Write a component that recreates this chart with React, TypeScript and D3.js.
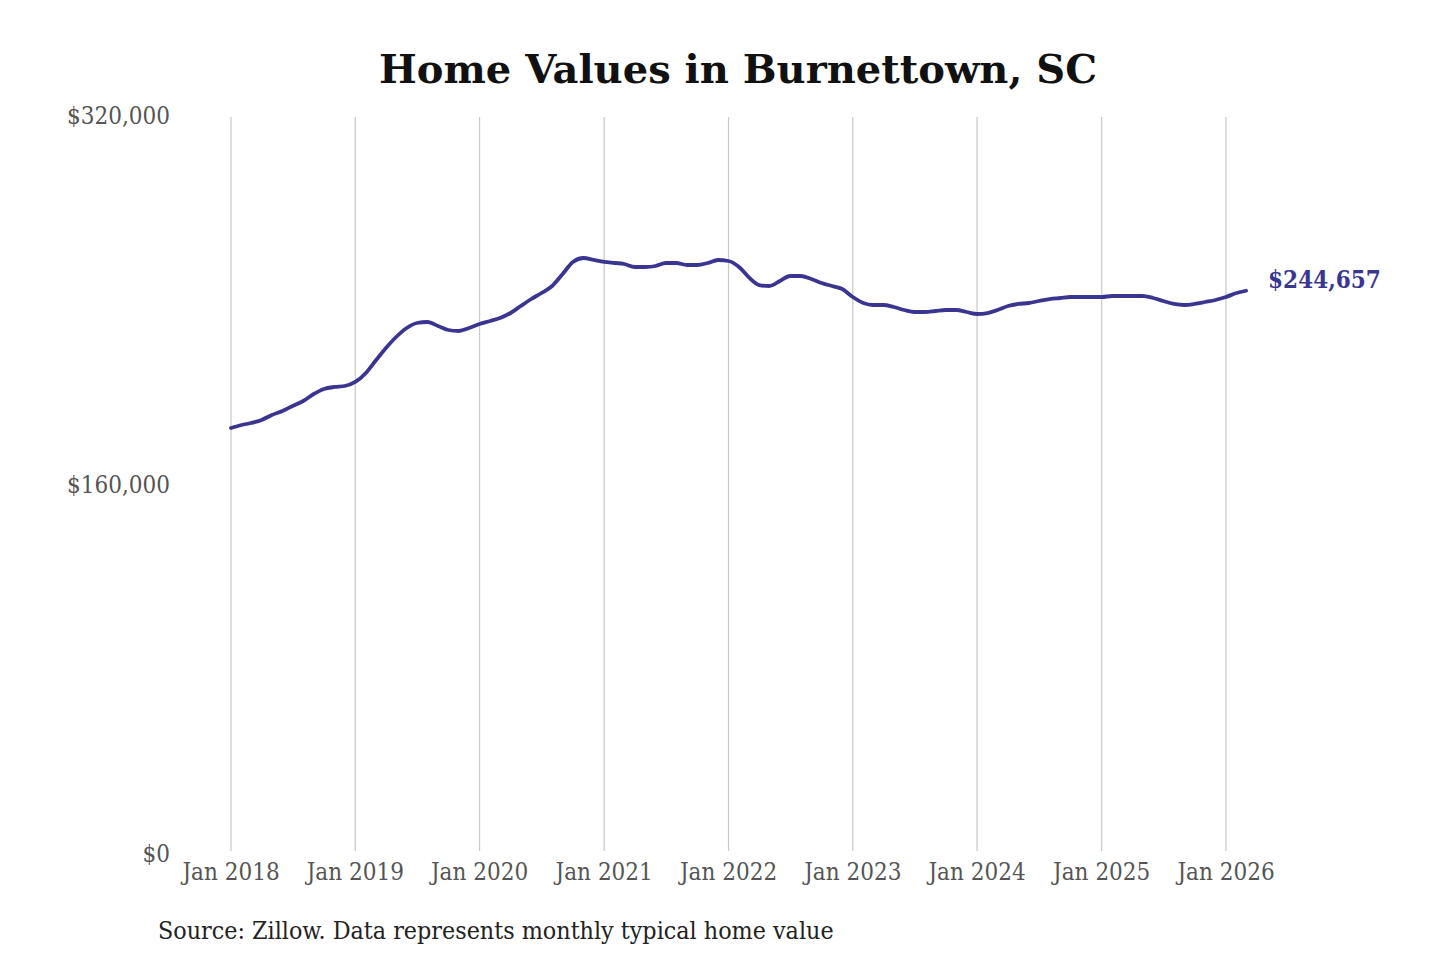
import React, { useEffect, useRef } from 'react'
import * as d3 from 'd3'

const startMonth = new Date(2018, 0, 1)

// monthly typical home value, Jan 2018 – Mar 2026
const values = [
  185150, 186450, 187320, 188620, 190790, 192520, 194690, 196860, 199890, 202060, 202930, 203360,
  205100, 209000, 214200, 219840, 224610, 228510, 230680, 231110, 229380, 227640, 227210, 228510,
  230240, 231550, 232850, 235010, 238050, 241080, 243690, 246720, 251920, 257130, 258860, 258000,
  257130, 256690, 256260, 254960, 254960, 255390, 256690, 256690, 255830, 255830, 256690, 258000,
  257560, 254960, 250620, 247150, 246720, 248890, 251060, 251060, 249760, 248020, 246720, 245420,
  241950, 239350, 238480, 238480, 237620, 236310, 235450, 235450, 235880, 236310, 236310, 235450,
  234580, 235010, 236310, 238050, 238920, 239350, 240220, 241080, 241520, 241950, 241950, 241950,
  241950, 242390, 242390, 242390, 242390, 241520, 240220, 238920, 238480, 238920, 239780, 240650,
  241950, 243690, 244657
]

const yTicks = [0, 160000, 320000]
const xTickYears = [2018, 2019, 2020, 2021, 2022, 2023, 2024, 2025, 2026]

const title = 'Home Values in Burnettown, SC'
const source = 'Source: Zillow. Data represents monthly typical home value'

export default function App() {
  const svgRef = useRef<SVGSVGElement>(null)

  useEffect(() => {
    document.body.style.margin = '0'
    if (!svgRef.current) return

    const width = 1440
    const height = 960
    const svg = d3.select(svgRef.current)
    svg.selectAll('*').remove()
    svg.attr('width', width).attr('height', height)

    const lineColor = '#3b3592'
    const font = '"DejaVu Serif", serif'

    const data = values.map((v, i) => ({
      date: d3.timeMonth.offset(startMonth, i),
      value: v
    }))

    const x = d3.scaleTime()
      .domain([new Date(2018, 0, 1), new Date(2026, 0, 1)])
      .range([231, 1226])

    const y = d3.scaleLinear()
      .domain([0, 320000])
      .range([855, 117])

    svg.append('rect').attr('width', width).attr('height', height).attr('fill', '#fff')

    // Title
    svg.append('text')
      .attr('x', 738)
      .attr('y', 83)
      .attr('text-anchor', 'middle')
      .style('font-family', font)
      .style('font-weight', 'bold')
      .style('font-size', '40px')
      .attr('fill', '#111')
      .text(title)

    // Vertical grid
    const xTicks = xTickYears.map(yr => new Date(yr, 0, 1))
    svg.append('g')
      .selectAll('line')
      .data(xTicks)
      .enter()
      .append('line')
      .attr('x1', d => x(d))
      .attr('x2', d => x(d))
      .attr('y1', 117)
      .attr('y2', 851)
      .attr('stroke', '#c8c8c8')
      .attr('stroke-width', 1.2)

    // X labels
    svg.append('g')
      .selectAll('text')
      .data(xTicks)
      .enter()
      .append('text')
      .attr('x', d => x(d))
      .attr('y', 880)
      .attr('text-anchor', 'middle')
      .style('font-family', font)
      .style('font-stretch', 'condensed')
      .style('font-size', '24px')
      .attr('fill', '#555')
      .text(d => d3.timeFormat('Jan %Y')(d))

    // Y labels
    svg.append('g')
      .selectAll('text')
      .data(yTicks)
      .enter()
      .append('text')
      .attr('x', 170)
      .attr('y', d => y(d) + 7)
      .attr('text-anchor', 'end')
      .style('font-family', font)
      .style('font-stretch', 'condensed')
      .style('font-size', '24px')
      .attr('fill', '#555')
      .text(d => '$' + d3.format(',')(d))

    // Line
    const line = d3.line<{ date: Date; value: number }>()
      .x(d => x(d.date))
      .y(d => y(d.value))
      .curve(d3.curveMonotoneX)

    svg.append('path')
      .datum(data)
      .attr('fill', 'none')
      .attr('stroke', lineColor)
      .attr('stroke-width', 3.8)
      .attr('stroke-linejoin', 'round')
      .attr('stroke-linecap', 'round')
      .attr('d', line)

    // End label
    const last = data[data.length - 1]
    svg.append('text')
      .attr('x', x(last.date) + 22)
      .attr('y', y(last.value) - 3)
      .style('font-family', font)
      .style('font-stretch', 'condensed')
      .style('font-weight', 'bold')
      .style('font-size', '24px')
      .attr('fill', lineColor)
      .text('$' + d3.format(',')(last.value))

    // Source
    svg.append('text')
      .attr('x', 158)
      .attr('y', 939)
      .style('font-family', font)
      .style('font-stretch', 'condensed')
      .style('font-size', '24.8px')
      .attr('fill', '#222')
      .text(source)
  }, [])

  return <svg ref={svgRef} style={{ display: 'block' }} />
}
